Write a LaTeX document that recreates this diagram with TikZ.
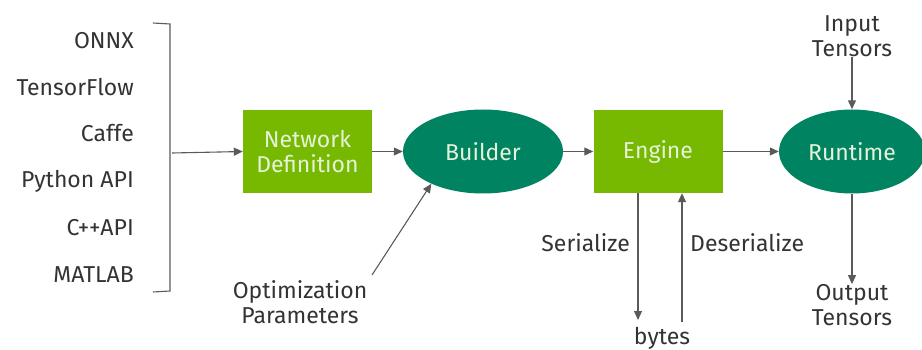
\documentclass[tikz,border=0pt]{standalone}
\usepackage{fontspec}
\setmainfont{Fira Sans}
\usetikzlibrary{arrows.meta,shapes.geometric}
\definecolor{nvgreen}{HTML}{76B900}
\definecolor{tealg}{HTML}{008361}
\definecolor{linegray}{HTML}{5A5A5A}
\definecolor{txtgray}{HTML}{333333}
\definecolor{intxt}{HTML}{E6F2D9}
\begin{document}
\begin{tikzpicture}[x=1pt,y=-1pt,
  every node/.style={font=\fontsize{23}{25}\selectfont, text=txtgray},
  box/.style={fill=nvgreen, minimum width=129pt, minimum height=83pt, inner sep=0pt, text=intxt, align=center},
  oval/.style={shape=ellipse, fill=tealg, minimum width=160pt, minimum height=84pt, inner sep=0pt, text=intxt},
  conn/.style={draw=linegray, line width=1.1pt, -{Triangle[length=9pt,width=8pt]}},
  plain/.style={draw=linegray, line width=1.1pt},
  lbl/.style={align=center, inner sep=0pt},
  src/.style={anchor=east, inner sep=0pt}]
\useasboundingbox (0,0) rectangle (922,350);
% source list
\node[src] (onnx) at (134,41) {ONNX};
\node[src] (tf) at (134,87) {TensorFlow};
\node[src] (caffe) at (134,133) {Caffe};
\node[src] (py) at (134,181) {Python API};
\node[src] (cpp) at (134,228) {C++API};
\node[src] (matlab) at (134,275) {MATLAB};
% bracket
\coordinate (bt0) at (153,23);
\coordinate (bt1) at (170,24);
\coordinate (bb1) at (170,291);
\coordinate (bb0) at (153,292);
\coordinate (bm) at (172,153);
\draw[plain] (bt0) -- (bt1) -- (bb1) -- (bb0);
% main nodes
\node[box] (net) at (307.5,151.5) {Network\\Definition};
\node[oval] (builder) at (483,151.5) {Builder};
\node[box] (engine) at (658,151.5) {Engine};
\node[oval, minimum width=146pt] (runtime) at (852,151.5) {Runtime};
% connectors
\draw[conn] (bm) -- (net.west);
\draw[conn] (net.east) -- (builder.west);
\draw[conn] (builder.east) -- (engine.west);
\draw[conn] (engine.east) -- (runtime.west);
% optimization
\node[lbl] (opt) at (300,302) {Optimization\\Parameters};
\coordinate (optS) at (372,275);
\draw[conn] (optS) -- (builder.-148);
% input / output
\node[lbl] (inp) at (852,36) {Input\\Tensors};
\draw[conn] (inp.south) -- (runtime.north);
\node[lbl] (outp) at (852,305) {Output\\Tensors};
\draw[conn] (runtime.south) -- (outp.north);
% serialize
\node[lbl] (bytes) at (662,338) {bytes};
\coordinate (serEnd) at (638,320);
\coordinate (desStart) at (682,322);
\draw[conn] (engine.south -| serEnd) -- (serEnd);
\draw[conn] (desStart) -- (engine.south -| desStart);
\node[anchor=east, inner sep=0pt] (ser) at (630,243) {Serialize};
\node[anchor=west, inner sep=0pt] (deser) at (690,243) {Deserialize};
\end{tikzpicture}
\end{document}
